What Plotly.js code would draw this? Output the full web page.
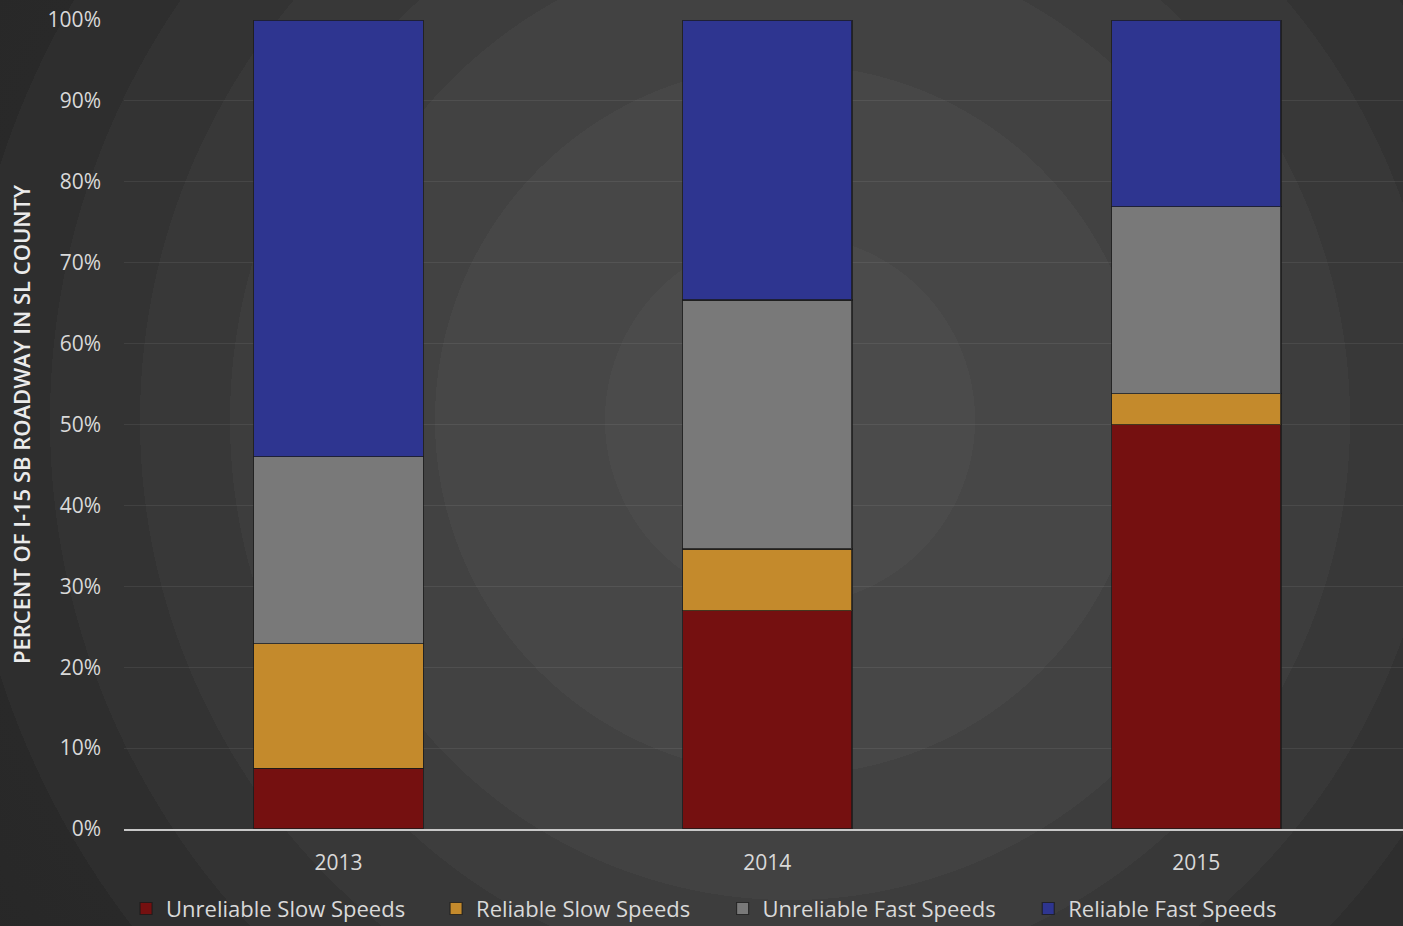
<!DOCTYPE html>
<html>
<head>
<meta charset="utf-8">
<script src="https://cdn.plot.ly/plotly-3.0.1.min.js"></script>
<style>
html,body{margin:0;padding:0;width:1403px;height:926px;overflow:hidden;}
body{
  background: radial-gradient(circle at 790px 420px,
    #4b4b4b 0px, #4b4b4b 185px,
    #474747 185px, #474747 355px,
    #424242 355px, #424242 480px,
    #3d3d3d 480px, #3d3d3d 560px,
    #383838 560px, #383838 650px,
    #333333 650px, #333333 740px,
    #2e2e2e 740px, #2e2e2e 830px,
    #292929 830px, #242424 1200px);
}
#chart{width:1403px;height:926px;}
</style>
</head>
<body>
<div id="chart"></div>
<script>
const years = ['2013', '2014', '2015'];
const unreliableSlow = [7.5, 27.0, 50.0];
const reliableSlow = [15.4, 7.6, 3.8];
const unreliableFast = [23.1, 30.8, 23.1];
const reliableFast = [54.0, 34.6, 23.1];
const seriesNames = ['Unreliable Slow Speeds', 'Reliable Slow Speeds', 'Unreliable Fast Speeds', 'Reliable Fast Speeds'];
const seriesColors = ['#751010', '#C48A2C', '#797979', '#2E3590'];
const yTicks = [0,10,20,30,40,50,60,70,80,90,100];

const series = [unreliableSlow, reliableSlow, unreliableFast, reliableFast];
const legendIds = ['legend', 'legend2', 'legend3', 'legend4'];
const legendX = [0.0016, 0.244, 0.468, 0.707];

const traces = series.map((vals, i) => ({
  type: 'bar',
  x: years,
  y: vals,
  name: seriesNames[i],
  legend: legendIds[i],
  width: 0.395,
  marker: {color: seriesColors[i], line: {color: 'rgba(25,25,25,0.75)', width: 1.2}},
  hoverinfo: 'skip'
}));

const layout = {
  width: 1403, height: 926,
  paper_bgcolor: 'rgba(0,0,0,0)',
  plot_bgcolor: 'rgba(0,0,0,0)',
  barmode: 'stack',
  margin: {l: 124, r: 0, t: 20, b: 97, autoexpand: false},
  font: {family: 'Open Sans, sans-serif', color: '#d9d9d9', size: 21},
  xaxis: {
    type: 'category',
    range: [-0.5, 2.482],
    showgrid: false,
    showline: true, linecolor: '#c8c8c8', linewidth: 2,
    ticks: '', tickfont: {size: 21, color: '#d9d9d9'},
    ticklabelstandoff: 14,
    zeroline: false
  },
  yaxis: {
    range: [0, 100],
    tickvals: yTicks,
    ticktext: yTicks.map(v => v + '%'),
    showgrid: true, gridcolor: 'rgba(255,255,255,0.07)', gridwidth: 1,
    zeroline: false, showline: false, ticks: '',
    ticklabelstandoff: 22,
    tickfont: {size: 21, color: '#d9d9d9'},
    title: {text: 'PERCENT OF I-15 SB ROADWAY IN SL COUNTY', font: {size: 22, color: '#ebebeb', weight: 600}, standoff: 10}
  },
  showlegend: true
};

legendIds.forEach((id, i) => {
  layout[id] = {
    orientation: 'h', x: legendX[i], xref: 'paper', xanchor: 'left',
    y: -0.0985, yref: 'paper', yanchor: 'middle',
    font: {size: 22, color: '#d9d9d9'},
    itemwidth: 30,
    bgcolor: 'rgba(0,0,0,0)'
  };
});

Plotly.newPlot('chart', traces, layout, {displayModeBar: false, staticPlot: true});
</script>
</body>
</html>
